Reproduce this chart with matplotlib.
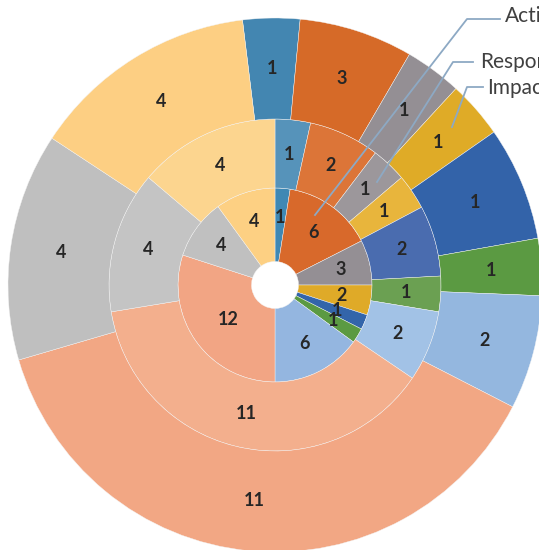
import numpy as np
import matplotlib
matplotlib.use('Agg')
import matplotlib.pyplot as plt

plt.rcParams['font.family'] = ['Lato', 'DejaVu Sans']

# Segmentgroessen je Ring (innen -> aussen), gleiche Reihenfolge der Kategorien
inner_values = [1, 6, 3, 2, 1, 1, 6, 12, 4, 4]
middle_values = [1, 2, 1, 1, 2, 1, 2, 11, 4, 4]
outer_values = [1, 2, 1, 1, 2, 1, 2, 11, 4, 4]

# Beschriftungen so wie im Bild
inner_labels = ['1', '6', '3', '2', '1', '1', '6', '12', '4', '4']
middle_labels = ['1', '2', '1', '1', '2', '1', '2', '11', '4', '4']
outer_labels = ['1', '3', '1', '1', '1', '1', '2', '11', '4', '4']

inner_colors = ['#3F88B4', '#D8692B', '#948F94', '#DFAA28', '#3365AA',
                '#5B9A42', '#94B6E0', '#F2A584', '#C0C0C0', '#FDD083']
middle_colors = ['#5693BA', '#DC7538', '#9C979B', '#E8B53C', '#4A6CAF',
                 '#6BA052', '#A2C2E6', '#F3AF8D', '#C4C4C4', '#FCD58F']
outer_colors = ['#4386B1', '#D66A28', '#948F94', '#DFAB27', '#3363A9',
                '#5B9A42', '#94B7DF', '#F2A784', '#BFBFBF', '#FDCF83']

series_names = ['Actions', 'Responses', 'Impact']

fig = plt.figure(figsize=(5.39, 5.5), dpi=100)
ax = fig.add_axes([0, 0, 1, 1])
ax.axis('off')

cx, cy = 275, 265
r_hole, r1, r2, r3 = 23.5, 97, 166, 267

rings = [
    (inner_values, inner_labels, inner_colors, r_hole, r1, 90),
    (middle_values, middle_labels, middle_colors, r1, r2, 90),
    (outer_values, outer_labels, outer_colors, r2, r3, 97),
]

for values, labels, colors, r_in, r_out, start in rings:
    wedges, _ = ax.pie(values, colors=colors, radius=r_out, center=(cx, cy),
                       startangle=start, counterclock=False, frame=True,
                       wedgeprops=dict(width=r_out - r_in, edgecolor='#F4F4F4', linewidth=0.3))
    for w, lab in zip(wedges, labels):
        theta = np.deg2rad((w.theta1 + w.theta2) / 2)
        span = np.deg2rad(w.theta2 - w.theta1)
        if r_in < 50:
            # Schwerpunkt des Ringsegments fuer den inneren Ring
            rc = 2 / 3 * (r_out**3 - r_in**3) / (r_out**2 - r_in**2)
            rc *= np.sin(span / 2) / (span / 2)
        else:
            rc = (r_in + r_out) / 2
        ax.text(cx + rc * np.cos(theta), cy + rc * np.sin(theta), lab,
                ha='center', va='center', fontsize=13, fontweight='bold', color='#262626')

ax.set_xlim(0, 539)
ax.set_ylim(0, 550)
ax.set_aspect('equal')

# Beschriftungen mit Fuehrungslinien
line_color = '#8DA9C4'
leaders = [
    ((315, 335), (467, 531), (500, 531), (505, 534)),
    ((377, 368), (453, 488), (473, 488), (480, 488)),
    ((452, 423), (467, 463), (483, 463), (487, 462)),
]
for name, (p0, p1, p2, tp) in zip(series_names, leaders):
    ax.plot([p0[0], p1[0], p2[0]], [p0[1], p1[1], p2[1]], color=line_color, lw=1.3)
    ax.text(tp[0], tp[1], name, ha='left', va='center', fontsize=15, color='#404040')

fig.savefig('out.png', dpi=100)
